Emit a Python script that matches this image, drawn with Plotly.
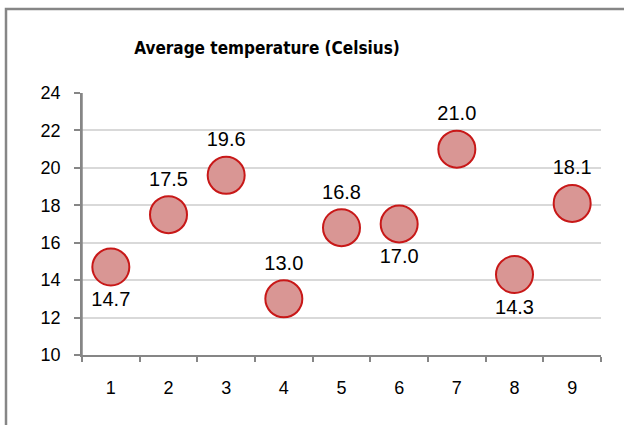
import plotly.graph_objects as go

categories = ["1", "2", "3", "4", "5", "6", "7", "8", "9"]
temps = [14.7, 17.5, 19.6, 13.0, 16.8, 17.0, 21.0, 14.3, 18.1]
label_pos = ["bottom center", "top center", "top center", "top center", "top center",
             "bottom center", "top center", "bottom center", "top center"]
labels = [f"{v:.1f}" for v in temps]
y_ticks = [10, 12, 14, 16, 18, 20, 22, 24]
y_ticktext = [f"{v}\u00a0\u00a0" for v in y_ticks]

fig = go.Figure()
fig.add_trace(go.Scatter(
    x=categories, y=temps, mode="markers+text",
    text=labels, textposition=label_pos,
    textfont=dict(family="Liberation Sans, Arial", size=20, color="#000000"),
    marker=dict(size=37, color="#d99694",
                line=dict(color="#c81818", width=2)),
    showlegend=False, cliponaxis=False,
))

fig.update_layout(
    width=624, height=425,
    margin=dict(l=82, r=23, t=93, b=70, autoexpand=False),
    paper_bgcolor="white", plot_bgcolor="white",
    title=dict(text="Average temperature (Celsius)", x=267/624, xref="container",
               xanchor="center", y=1-48/425, yref="container", yanchor="middle",
               font=dict(family="DejaVu Sans Condensed, Liberation Sans", size=17,
                         color="#000000", weight="bold")),
    xaxis=dict(type="category", range=[-0.5, 8.5], tickson="boundaries", ticks="outside",
               ticklen=5, automargin=False, ticklabelstandoff=16,
               tickcolor="#868686", tickwidth=1.5, showline=True, linecolor="#868686",
               linewidth=1.5, showgrid=False, zeroline=False,
               tickfont=dict(family="Liberation Sans, Arial", size=18, color="#000000")),
    yaxis=dict(range=[10, 24], tickvals=y_ticks, ticktext=y_ticktext,
               ticks="outside", ticklen=6, automargin=False,
               tickcolor="#868686", tickwidth=1.5, showline=True, linecolor="#868686",
               linewidth=1.5, showgrid=True, gridcolor="#d9d9d9", gridwidth=1.5,
               zeroline=False,
               tickfont=dict(family="Liberation Sans, Arial", size=18, color="#000000")),
    shapes=[
        dict(type="rect", xref="paper", yref="paper",
             x0=(6-82)/519, x1=(640-82)/519, y0=(355-440)/262, y1=(355-9)/262,
             line=dict(color="#868686", width=2.5), layer="below"),
        dict(type="line", xref="paper", yref="paper", x0=0, x1=0, y0=0, y1=1,
             line=dict(color="#868686", width=1.5), layer="above"),
    ],
)

fig.write_html("out.html")
